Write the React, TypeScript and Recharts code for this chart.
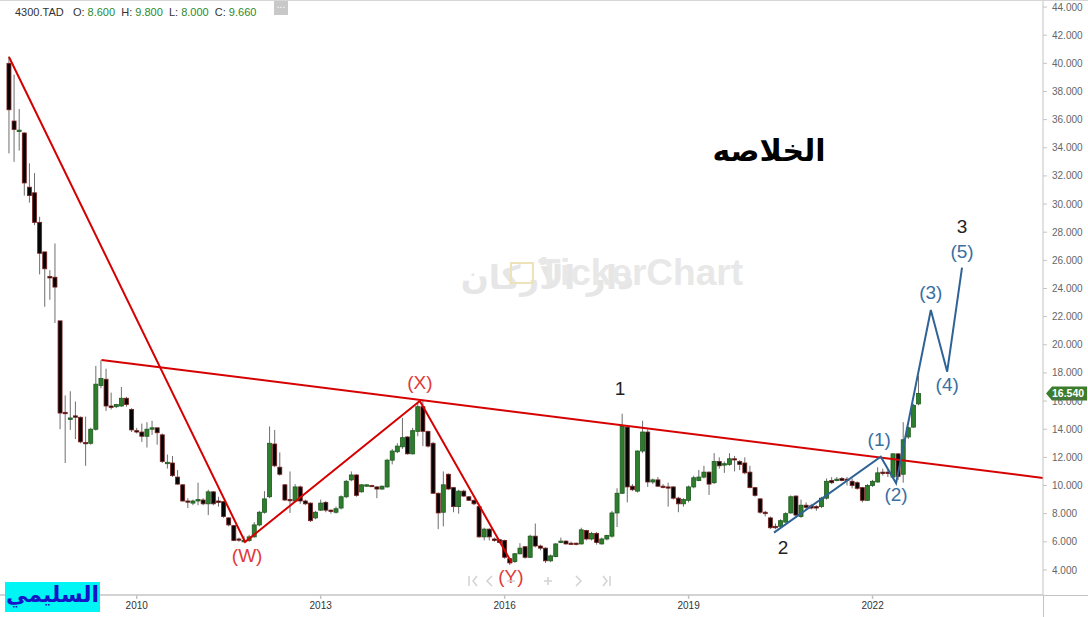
import React from "react";
import { ComposedChart, Bar, Line, Scatter, XAxis, YAxis, ReferenceLine } from "recharts";

// Monthly candles, index 0 = Dec 2007
const OPEN = [
  40.0, 35.9, 35.15, 35.05, 31.2, 30.8, 28.7, 26.6, 24.85, 24.8,
  21.7, 15.2, 14.7, 14.95, 14.85, 13.05, 13.0, 14.0, 17.1, 17.55,
  15.65, 15.6, 15.65, 16.2, 15.4, 13.9, 13.8, 13.5, 14.0, 14.1,
  13.6, 11.55, 11.6, 10.6, 10.05, 8.9, 8.75, 8.9, 8.97, 8.7,
  9.55, 8.9, 8.85, 7.7, 7.15, 6.2, 6.0, 6.1, 6.35, 7.2,
  8.1, 9.2, 12.95, 11.3, 10.05, 9.0, 8.9, 9.9, 8.9, 8.75,
  7.7, 8.25, 8.8, 8.25, 8.1, 8.4, 9.2, 10.4, 10.75, 9.55,
  9.95, 10.0, 9.9, 9.75, 9.9, 11.8, 12.4, 12.75, 13.45, 12.25,
  13.85, 15.6, 13.85, 13.0, 9.45, 8.1, 10.8, 9.85, 8.5, 9.6,
  9.2, 8.95, 8.5, 6.35, 6.9, 6.2, 6.15, 6.1, 4.8, 4.6,
  5.15, 5.65, 4.9, 6.4, 5.7, 5.55, 4.65, 4.95, 5.95, 6.05,
  5.9, 5.9, 5.85, 6.8, 6.2, 6.6, 5.85, 6.2, 6.4, 8.05,
  9.45, 14.15, 9.95, 9.6, 12.45, 13.8, 10.25, 10.4, 9.95, 9.9,
  9.9, 9.1, 8.7, 8.95, 9.9, 10.35, 10.6, 10.95, 10.2, 11.7,
  11.45, 11.5, 11.9, 11.7, 11.6, 10.95, 9.85, 9.05, 8.1, 7.7,
  7.1, 7.1, 7.4, 8.05, 9.25, 7.8, 8.6, 8.55, 8.5, 8.5,
  9.1, 10.35, 10.35, 10.5, 10.45, 10.3, 10.2, 9.85, 8.95, 10.0,
  10.25, 10.95, 10.95, 10.6, 12.25, 10.8, 13.45, 14.15, 15.8,
];
const HIGH = [
  40.5, 39.2, 36.75, 35.1, 32.9, 32.2, 29.1, 26.6, 25.3, 27.2,
  21.7, 16.4, 16.7, 15.97, 14.9, 14.9, 14.1, 18.5, 18.9, 18.3,
  16.6, 15.8, 17.0, 16.3, 15.5, 14.1, 14.4, 14.5, 14.6, 14.1,
  13.7, 12.2, 12.1, 11.1, 10.1, 9.1, 9.0, 10.2, 9.1, 9.7,
  9.6, 9.2, 8.9, 7.75, 7.2, 6.3, 6.4, 6.5, 7.4, 8.2,
  9.6, 14.2, 13.95, 12.35, 10.1, 11.0, 10.1, 10.0, 9.0, 8.8,
  8.2, 9.0, 8.9, 8.3, 8.5, 9.3, 10.4, 11.0, 10.8, 10.1,
  10.1, 10.05, 9.95, 10.0, 11.9, 12.6, 13.0, 14.8, 13.5, 14.1,
  15.95, 16.0, 13.9, 13.1, 9.5, 11.0, 10.85, 9.9, 9.7, 9.7,
  9.25, 9.0, 8.55, 7.0, 6.95, 6.3, 6.2, 6.15, 4.85, 5.2,
  5.9, 5.7, 6.5, 7.3, 5.8, 5.6, 5.1, 5.9, 6.3, 6.1,
  6.0, 5.95, 7.0, 6.85, 6.7, 6.7, 6.3, 6.5, 8.2, 9.8,
  15.1, 14.2, 10.1, 12.5, 14.6, 14.0, 10.5, 10.6, 10.1, 10.2,
  9.95, 9.2, 9.1, 10.0, 10.7, 11.1, 11.4, 11.0, 12.3, 12.0,
  11.7, 12.3, 12.1, 11.8, 12.0, 11.4, 9.9, 9.1, 8.2, 7.8,
  7.3, 7.6, 8.1, 9.3, 9.3, 9.0, 8.8, 8.7, 8.6, 9.2,
  10.5, 10.6, 10.6, 10.6, 10.6, 10.5, 10.3, 9.9, 10.1, 10.4,
  11.3, 11.2, 11.1, 12.3, 12.3, 14.5, 14.2, 15.8, 17.8,
];
const LOW = [
  33.6, 33.0, 33.8, 30.6, 30.1, 28.5, 25.0, 22.7, 23.2, 21.55,
  14.0, 11.6, 13.95, 13.3, 13.0, 11.4, 12.9, 13.9, 16.9, 15.3,
  15.4, 15.5, 15.6, 15.6, 13.8, 13.7, 13.1, 12.7, 13.6, 12.9,
  11.6, 11.2, 10.6, 10.05, 8.85, 8.4, 8.6, 8.6, 8.6, 7.9,
  8.6, 8.5, 7.7, 7.1, 6.05, 6.0, 5.95, 6.0, 6.3, 7.1,
  8.0, 9.1, 11.3, 10.7, 8.9, 8.05, 8.8, 8.7, 8.6, 7.4,
  7.6, 8.2, 8.1, 8.0, 8.0, 8.3, 9.1, 10.3, 9.2, 9.5,
  9.9, 9.9, 9.1, 9.7, 9.85, 11.5, 12.3, 12.6, 12.2, 12.2,
  13.5, 12.8, 12.7, 9.4, 6.9, 7.1, 9.7, 8.1, 8.0, 9.2,
  8.9, 8.6, 6.3, 6.1, 6.1, 6.0, 5.9, 4.8, 4.35, 4.5,
  5.1, 4.8, 4.85, 5.6, 5.4, 4.5, 4.55, 4.9, 5.9, 5.8,
  5.8, 5.75, 5.8, 6.1, 6.1, 5.8, 5.8, 6.1, 6.3, 7.05,
  9.4, 8.8, 9.6, 9.5, 12.3, 9.9, 10.1, 9.9, 9.8, 8.5,
  9.0, 8.1, 8.5, 8.8, 9.8, 10.3, 10.5, 9.33, 10.1, 11.2,
  10.9, 11.4, 11.0, 11.1, 10.8, 9.8, 9.2, 8.0, 7.8, 6.9,
  6.9, 7.0, 7.35, 8.0, 7.8, 7.7, 8.3, 8.3, 8.2, 8.4,
  9.0, 10.1, 10.3, 10.3, 10.0, 9.8, 9.7, 8.8, 8.9, 9.9,
  10.2, 10.7, 10.6, 10.5, 10.4, 10.2, 13.3, 14.1, 15.7,
];
const CLOSE = [
  36.7, 35.3, 35.25, 31.5, 30.6, 28.7, 26.5, 25.4, 24.75, 24.1,
  15.15, 15.1, 14.8, 14.85, 13.1, 13.0, 14.0, 17.2, 17.6, 15.65,
  15.55, 15.75, 16.2, 15.75, 13.95, 13.8, 13.5, 14.0, 14.1, 13.75,
  11.7, 11.65, 10.7, 10.1, 8.9, 8.85, 8.9, 9.0, 8.7, 9.55,
  8.7, 8.8, 7.8, 7.2, 6.1, 6.15, 6.1, 6.35, 7.2, 8.1,
  9.05, 13.0, 11.4, 10.8, 8.97, 8.95, 9.9, 8.9, 8.7, 7.5,
  8.1, 8.75, 8.25, 8.15, 8.35, 9.2, 10.3, 10.75, 9.3, 10.05,
  10.05, 9.95, 9.75, 9.95, 11.8, 12.45, 12.8, 13.4, 12.25, 13.9,
  15.6, 13.85, 12.8, 9.45, 8.05, 10.05, 9.75, 8.5, 9.6, 9.25,
  8.95, 8.7, 6.35, 6.9, 6.35, 6.1, 5.95, 4.9, 4.5, 5.15,
  5.55, 4.9, 6.4, 5.7, 5.55, 4.65, 5.0, 5.85, 6.05, 5.85,
  5.85, 5.85, 6.85, 6.2, 6.6, 5.95, 6.2, 6.45, 8.05, 9.45,
  14.2, 9.9, 9.7, 12.45, 13.8, 10.25, 10.4, 9.95, 9.9, 9.85,
  9.1, 8.7, 9.0, 9.9, 10.55, 10.6, 10.95, 10.1, 11.7, 11.4,
  11.55, 11.9, 11.85, 11.5, 10.9, 9.85, 9.3, 8.1, 8.0, 7.0,
  7.0, 7.5, 8.0, 9.2, 7.9, 8.6, 8.45, 8.4, 8.4, 9.1,
  10.3, 10.2, 10.45, 10.35, 10.4, 10.0, 9.8, 8.95, 10.0, 10.3,
  10.9, 10.85, 10.85, 12.25, 10.65, 13.25, 14.1, 15.7, 16.54,
];

const YEAR_TICK_INDEX = [25, 61, 97, 133, 169];
const YEAR_TICK_LABELS = ["2010", "2013", "2016", "2019", "2022"];
const PRICE_TICKS = [4, 6, 8, 10, 12, 14, 16, 18, 20, 22, 24, 26, 28, 30, 32, 34, 36, 38, 40, 42, 44];
const LAST_PRICE = 16.54;

// Elliott wave annotations (x = month index, v = price)
const WXY_PATH = [
  { i: 0, v: 40.45 },
  { i: 46.2, v: 5.99 },
  { i: 80.4, v: 16.0 },
  { i: 98.4, v: 4.5 },
];
const RESISTANCE_LINE = [
  { i: 18.1, v: 18.92 },
  { i: 202.35, v: 10.54 },
];
const IMPULSE_PATH = [
  { i: 149.7, v: 6.65 },
  { i: 170.6, v: 12.05 },
  { i: 173.6, v: 10.16 },
  { i: 180.4, v: 22.47 },
  { i: 183.6, v: 18.09 },
  { i: 186.5, v: 25.48 },
];
const RED_LABELS = [
  { i: 46.6, v: 5.0, t: "(W)" },
  { i: 80.4, v: 17.29, t: "(X)" },
  { i: 98.2, v: 3.57, t: "(Y)" },
];
const BLACK_LABELS = [
  { i: 119.6, v: 16.86, t: "1" },
  { i: 151.5, v: 5.63, t: "2" },
  { i: 186.5, v: 28.44, t: "3" },
];
const BLUE_LABELS = [
  { i: 170.3, v: 13.24, t: "(1)" },
  { i: 173.6, v: 9.33, t: "(2)" },
  { i: 180.4, v: 23.68, t: "(3)" },
  { i: 183.6, v: 17.21, t: "(4)" },
  { i: 186.5, v: 26.66, t: "(5)" },
];

const candles = OPEN.map((o, i) => ({ i, o, h: HIGH[i], l: LOW[i], c: CLOSE[i] }));

const BODY_W = 4;

const Candle = (props: any) => {
  const { x, y, width, height, payload } = props;
  if (x == null || y == null || !payload) return null;
  const { o, h, l, c } = payload;
  const top = Math.min(y, y + height);
  const hgt = Math.abs(height);
  const range = h - l || 1;
  const py = (v: number) => top + ((h - v) / range) * hgt;
  const up = c >= o;
  const bTop = py(Math.max(o, c));
  const bBot = py(Math.min(o, c));
  const cx = x + (width || 0) / 2;
  return (
    <g>
      <line x1={cx} x2={cx} y1={top} y2={top + hgt} stroke="#6e6e6e" strokeWidth={1} />
      <rect
        x={cx - BODY_W / 2}
        y={bTop}
        width={BODY_W}
        height={Math.max(1.2, bBot - bTop)}
        fill={up ? "#2e7d2e" : "#050505"}
        stroke={up ? "#1d5a1d" : "#7d1f1f"}
        strokeWidth={0.8}
      />
    </g>
  );
};

const makeLabel = (color: string, size: number) => (p: any) => {
  if (p.cx == null || p.cy == null) return null;
  return (
    <text
      x={p.cx}
      y={p.cy}
      textAnchor="middle"
      dominantBaseline="central"
      fill={color}
      fontSize={size}
      fontFamily="'Liberation Sans', Arial, sans-serif"
    >
      {p.payload.t}
    </text>
  );
};

const PriceTag = (props: any) => {
  const vb = props.viewBox || {};
  const yy = vb.y;
  const xx = (vb.x || 0) + (vb.width || 0);
  if (yy == null) return null;
  return (
    <g>
      <polygon
        points={`${xx + 3},${yy} ${xx + 9},${yy - 7} ${xx + 44},${yy - 7} ${xx + 44},${yy + 7} ${xx + 9},${yy + 7}`}
        fill="#3b7d2b"
      />
      <text x={xx + 9} y={yy} dominantBaseline="central" fill="#fff" fontSize={10.5} fontWeight="bold" fontFamily="'Liberation Sans', Arial, sans-serif">
        {LAST_PRICE.toFixed(3)}
      </text>
    </g>
  );
};

const yearFmt = (v: number) => {
  const k = YEAR_TICK_INDEX.indexOf(Math.round(v));
  return k >= 0 ? YEAR_TICK_LABELS[k] : "";
};

const greenTxt = { color: "#2a8a2a" };

export default function App() {
  return (
    <div style={{ position: "absolute", left: 0, top: 0, width: 1088, height: 617, background: "#fff", overflow: "hidden" }}>
      {/* watermark */}
      <div style={{ position: "absolute", left: 334, top: 256, width: 300, textAlign: "right", direction: "rtl", whiteSpace: "nowrap", fontFamily: "'DejaVu Sans', sans-serif", fontWeight: "bold", fontSize: 33, color: "#e6e6e6", lineHeight: "44px" }}>
        دار الأركان
      </div>
      <div style={{ position: "absolute", left: 510, top: 262, width: 24, height: 22, border: "2px solid #eee3b8", boxSizing: "border-box" }} />
      <div style={{ position: "absolute", left: 538, top: 249, fontFamily: "'Liberation Sans', Arial, sans-serif", fontWeight: "bold", fontSize: 37, color: "#e8e8e8", lineHeight: "48px", whiteSpace: "nowrap" }}>
        TickerChart
      </div>

      <div style={{ position: "absolute", left: 0, top: 0 }}>
        <ComposedChart width={1088} height={617} data={candles} margin={{ top: 0, right: 0, bottom: 0, left: 0 }}>
          <XAxis
            type="number"
            dataKey="i"
            domain={[-1.76, 202.35]}
            allowDataOverflow
            ticks={YEAR_TICK_INDEX}
            tickFormatter={yearFmt}
            height={22}
            tickSize={4}
            tickMargin={3}
            stroke="#c4c4c4"
            strokeWidth={1.5}
            tick={{ fill: "#333", fontSize: 10, fontFamily: "'Liberation Sans', Arial, sans-serif" }}
          />
          <YAxis
            orientation="right"
            type="number"
            domain={[2.22, 44.5]}
            allowDataOverflow
            ticks={PRICE_TICKS}
            tickFormatter={(v: number) => v.toFixed(3)}
            width={45}
            tickSize={4}
            tickMargin={5}
            stroke="#c4c4c4"
            tick={{ fill: "#666", fontSize: 10, fontFamily: "'Liberation Sans', Arial, sans-serif" }}
          />
          <Bar dataKey={(d: any) => [d.l, d.h]} barSize={4} shape={Candle} isAnimationActive={false} />
          <Line data={RESISTANCE_LINE} dataKey="v" type="linear" stroke="#d60000" strokeWidth={2} dot={false} activeDot={false} isAnimationActive={false} />
          <Line data={WXY_PATH} dataKey="v" type="linear" stroke="#d60000" strokeWidth={2} dot={false} activeDot={false} isAnimationActive={false} />
          <Line data={IMPULSE_PATH} dataKey="v" type="linear" stroke="#2f6396" strokeWidth={2} dot={false} activeDot={false} isAnimationActive={false} />
          <Scatter data={RED_LABELS} dataKey="v" shape={makeLabel("#e03a3a", 19)} isAnimationActive={false} />
          <Scatter data={BLACK_LABELS} dataKey="v" shape={makeLabel("#222", 19)} isAnimationActive={false} />
          <Scatter data={BLUE_LABELS} dataKey="v" shape={makeLabel("#3a6fa3", 19)} isAnimationActive={false} />
          <ReferenceLine y={LAST_PRICE} stroke="none" label={PriceTag} />
        </ComposedChart>
      </div>

      {/* frame extras */}
      <div style={{ position: "absolute", left: 0, top: 0, width: 1088, height: 1, background: "#d6d6d6" }} />
      <div style={{ position: "absolute", left: 1043, top: 595, width: 45, height: 1, background: "#c4c4c4" }} />
      <div style={{ position: "absolute", left: 1043, top: 595, width: 1, height: 22, background: "#c4c4c4" }} />

      {/* header */}
      <div style={{ position: "absolute", left: 15, top: 4, fontFamily: "'Liberation Sans', Arial, sans-serif", fontSize: 11, color: "#333", whiteSpace: "pre", lineHeight: "16px" }}>
        <span>4300.TAD   O: </span><span style={greenTxt}>8.600</span><span>  H: </span><span style={greenTxt}>9.800</span><span>  L: </span><span style={greenTxt}>8.000</span><span>  C: </span><span style={greenTxt}>9.660</span>
      </div>
      <div style={{ position: "absolute", left: 274, top: 1, width: 14, height: 14, background: "#c8c8c8", color: "#fff", fontSize: 10, lineHeight: "8px", textAlign: "center", fontFamily: "Arial, sans-serif" }}>...</div>

      {/* title */}
      <div style={{ position: "absolute", left: 704, top: 131, width: 130, textAlign: "center", direction: "rtl", fontFamily: "'DejaVu Sans', sans-serif", fontWeight: "bold", fontSize: 30, color: "#000", lineHeight: "40px" }}>
        الخلاصه
      </div>

      {/* nav controls */}
      <svg style={{ position: "absolute", left: 460, top: 573 }} width={160} height={16}>
        <g stroke="#d2d2d2" strokeWidth={1.5} fill="none">
          <line x1={9} y1={3} x2={9} y2={13} />
          <polyline points="17,3 13,8 17,13" />
          <polyline points="32,3 27,8 32,13" />
          <line x1={47} y1={8} x2={55} y2={8} />
          <line x1={84} y1={8} x2={92} y2={8} />
          <line x1={88} y1={4} x2={88} y2={12} />
          <polyline points="116,3 121,8 116,13" />
          <polyline points="143,3 147,8 143,13" />
          <line x1={150} y1={3} x2={150} y2={13} />
        </g>
      </svg>

      {/* signature box */}
      <div style={{ position: "absolute", left: 5, top: 582, width: 95, height: 30, background: "#00f5f5", direction: "rtl", textAlign: "center", fontFamily: "'DejaVu Sans', sans-serif", fontWeight: "bold", fontSize: 22, color: "#1414c8", lineHeight: "26px" }}>
        السليمي
      </div>
    </div>
  );
}
